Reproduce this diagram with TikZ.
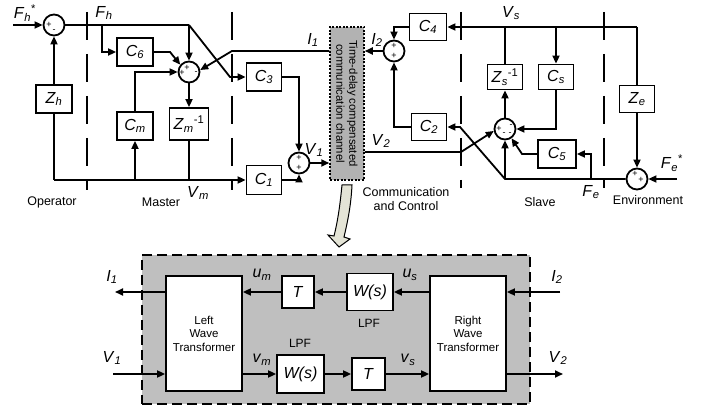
\documentclass[tikz,border=0pt]{standalone}
\usepackage{fontspec}
\setmainfont{Liberation Sans}
\usetikzlibrary{arrows.meta,calc}
\newcommand\vsub[2]{\textit{#1}\textsubscript{\textit{#2}}}
\begin{document}
\begin{tikzpicture}[x=1pt,y=-1pt,
  wire/.style={line width=1.8pt},
  arr/.style={line width=1.8pt,-{Triangle[length=8pt,width=7pt]}},
  blk/.style={draw,fill=white,line width=1.8pt,inner sep=0pt,font=\fontsize{16}{18}\selectfont},
  wbox/.style={draw,fill=white,line width=1.8pt,inner sep=0pt,align=center,font=\fontsize{11.5}{13.5}\selectfont,minimum width=76pt,minimum height=115pt},
  sum/.style={circle,draw,fill=white,line width=1.8pt,minimum size=21pt,inner sep=0pt},
  sg/.style={font=\fontsize{9}{9}\selectfont,inner sep=0pt},
  lab/.style={font=\fontsize{16}{18}\selectfont,inner sep=0pt},
  txt/.style={font=\fontsize{12.5}{14}\selectfont,inner sep=0pt,align=center},
  sep/.style={line width=1.8pt,dash pattern=on 28pt off 14pt},
]
\useasboundingbox (0,0) rectangle (709,411);
\fill[white] (0,0) rectangle (709,411);

% separators
\draw[sep] (87,12) -- (87,190);
\draw[sep] (232,12) -- (232,190);
\draw[sep] (461,12) -- (461,188);
\draw[sep] (604,12) -- (604,188);

% summing junctions
\node[sum] (s1) at (54,25) {};
\node[sum] (s2) at (189,72) {};
\node[sum] (s3) at (299,163) {};
\node[sum] (s4) at (394,51) {};
\node[sum] (s5) at (505,129) {};
\node[sum] (s6) at (637,179) {};

% blocks
\node[blk,minimum width=36pt,minimum height=28pt] (Zh) at (54,99) {\vsub{Z}{h}};
\node[blk,minimum width=36pt,minimum height=28pt] (C6) at (135,52) {\vsub{C}{6}};
\node[blk,minimum width=36pt,minimum height=28pt] (Cm) at (135,126) {\vsub{C}{m}};
\node[blk,minimum width=39pt,minimum height=32pt] (Zm) at (189,124) {\vsub{Z}{m}\textsuperscript{-1}};
\node[blk,minimum width=35pt,minimum height=28pt] (C3) at (264,77) {\vsub{C}{3}};
\node[blk,minimum width=35pt,minimum height=29pt] (C1) at (264,180) {\vsub{C}{1}};
\node[draw,fill=gray!60,line width=1.5pt,dash pattern=on 2pt off 1.5pt,minimum width=34pt,minimum height=153pt,inner sep=0pt] (ch) at (347,103.5) {};
\node[rotate=-90,align=center,font=\fontsize{11.3}{13}\selectfont,inner sep=0pt] (chT) at (ch.center) {Time-delay compensated\\communication channel};
\node[blk,minimum width=37pt,minimum height=27pt] (C4) at (428,27) {\vsub{C}{4}};
\node[blk,minimum width=35pt,minimum height=27pt] (C2) at (429,127) {\vsub{C}{2}};
\node[blk,minimum width=35pt,minimum height=25pt] (Zs) at (505,77) {\vsub{Z}{s}\textsuperscript{-1}};
\node[blk,minimum width=35pt,minimum height=25pt] (Cs) at (556,77) {\vsub{C}{s}};
\node[blk,minimum width=35pt,minimum height=27pt] (Ze) at (637,99) {\vsub{Z}{e}};
\node[blk,minimum width=38pt,minimum height=28pt] (C5) at (557,154) {\vsub{C}{5}};

% signs
\node[sg] (s1a) at ($(s1)+(-5,0)$) {+};
\node[sg] (s1b) at ($(s1)+(0,6)$) {-};
\node[sg] (s2a) at ($(s2)+(-7,1)$) {+};
\node[sg] (s2b) at ($(s2)+(-2,-4)$) {+};
\node[sg] (s2c) at ($(s2)+(7,1)$) {-};
\node[sg] (s3a) at ($(s3)+(0,-5)$) {+};
\node[sg] (s3b) at ($(s3)+(0,5)$) {+};
\node[sg] (s4a) at ($(s4)+(0,-5)$) {+};
\node[sg] (s4b) at ($(s4)+(0,5)$) {+};
\node[sg] (s5a) at ($(s5)+(-6,0)$) {+};
\node[sg] (s5b) at ($(s5)+(6,-3)$) {-};
\node[sg] (s5c) at ($(s5)+(-1,5)$) {-};
\node[sg] (s5d) at ($(s5)+(5,5)$) {-};
\node[sg] (s6a) at ($(s6)+(-2,-5)$) {+};
\node[sg] (s6b) at ($(s6)+(4,1)$) {+};

% left side wiring
\coordinate (fhin) at (13,25);
\coordinate (j0) at (102,25);
\coordinate (j1) at (189,25);
\coordinate (j2) at (230,77);
\coordinate (c6k) at (170,52);
\coordinate (i1) at (232,51);
\coordinate (vm0) at (54,180);
\draw[arr] (fhin) -- (s1.west);
\draw[wire] (s1.east) -- (j1);
\draw[arr] (j1) -- (s2.north);
\draw[arr] (j0) |- (C6.west);
\draw[arr] (j1) -- (j2) -- (C3.west);
\draw[arr] (C6.east) -- (c6k) -- (s2.140);
\draw[arr] (Cm.north) |- (s2.west);
\draw[arr] (ch.west |- i1) -- (i1) -- (s2.10);
\draw[arr] (s2.south) -- (Zm.north);
\draw[wire] (Zh.south) -- (vm0);
\draw[arr] (vm0) -- (C1.west);
\draw[arr] (Cm.south |- vm0) -- (Cm.south);
\draw[wire] (Zm.south) -- (Zm.south |- vm0);
\draw[arr] (Zh.north) -- (s1.south);
\draw[arr] (C3.east) -| (s3.north);
\draw[arr] (C1.east) -| (s3.south);
\draw[arr] (s3.east) -- (s3.east -| ch.west);

% right side wiring
\coordinate (v2k) at (461,152);
\coordinate (vs1) at (637,27);
\coordinate (fein) at (677,179);
\coordinate (fe1) at (505,179);
\coordinate (fe2) at (460,127);
\coordinate (fe3) at (591,179);
\coordinate (c5k) at (522,154);
\draw[arr] (ch.east |- v2k) -- (v2k) -- (s5.190);
\draw[arr] (s4.west) -- (s4.west -| ch.east);
\draw[arr] (vs1) -- (C4.east);
\draw[wire] (vs1) -- (Ze.north);
\draw[wire] (Zs.north) -- (Zs.north |- vs1);
\draw[arr] (Cs.north |- vs1) -- (Cs.north);
\draw[arr] (C4.west) -| (s4.north);
\draw[arr] (C2.west) -| (s4.south);
\draw[arr] (s5.north) -- (Zs.south);
\draw[arr] (Cs.south) |- (s5.east);
\draw[arr] (Ze.south) -- (s6.north);
\draw[arr] (fein) -- (s6.east);
\draw[arr] (s6.west) -- (fe1) -- (fe2) -- (C2.east);
\draw[arr] (fe1) -- (s5.south);
\draw[arr] (fe3) |- (C5.east);
\draw[arr] (C5.west) -- (c5k) -- (s5.-55);

% labels
\node[lab] (lFhs) at (25,13) {\vsub{F}{h}\textsuperscript{*}};
\node[lab] (lFh) at (104,13) {\vsub{F}{h}};
\node[lab] (lI1) at (313,40) {\vsub{I}{1}};
\node[lab] (lV1) at (314,150) {\vsub{V}{1}};
\node[lab] (lVm) at (198,193) {\vsub{V}{m}};
\node[lab] (lI2) at (377,40) {\vsub{I}{2}};
\node[lab] (lV2) at (381,141) {\vsub{V}{2}};
\node[lab] (lVs) at (511,13) {\vsub{V}{s}};
\node[lab] (lFe) at (591,192) {\vsub{F}{e}};
\node[lab] (lFes) at (672,163) {\vsub{F}{e}\textsuperscript{*}};
\node[txt] (tOp) at (52,202) {Operator};
\node[txt] (tMa) at (161,202) {Master};
\node[txt] (tCo) at (406,199) {Communication\\and Control};
\node[txt] (tSl) at (540,202) {Slave};
\node[txt] (tEn) at (648,200) {Environment};

% curved block arrow
\draw[line width=1pt,fill={rgb,255:red,228;green,228;blue,214}]
  (342,185) .. controls (340,205) and (338,220) .. (334,236) -- (328,235) -- (339,247) -- (350,239) -- (344,237) .. controls (348,220) and (351,205) .. (352,185) -- cycle;

% bottom detail
\node[draw,fill=gray!50,line width=1.8pt,dash pattern=on 10pt off 5pt,minimum width=388pt,minimum height=149pt,inner sep=0pt] (bb) at (336,329.5) {};
\node[wbox] (LW) at (204,333.5) {Left\\Wave\\Transformer};
\node[wbox] (RW) at (468,333.5) {Right\\Wave\\Transformer};
\node[blk,minimum width=32pt,minimum height=32pt] (T1) at (298,292) {\textit{T}};
\node[blk,minimum width=46pt,minimum height=37pt] (W1) at (370,292) {\textit{W(s)}};
\node[blk,minimum width=47pt,minimum height=38pt] (W2) at (300.5,374) {\textit{W(s)}};
\node[blk,minimum width=33pt,minimum height=32pt] (T2) at (368.5,374) {\textit{T}};
\coordinate (i1o) at (115,292);
\coordinate (i2i) at (560,292);
\coordinate (v1i) at (113,374);
\coordinate (v2o) at (563,374);
\draw[arr] (LW.west |- i1o) -- (i1o);
\draw[arr] (RW.west |- W1) -- (W1.east);
\draw[arr] (W1.west) -- (T1.east);
\draw[arr] (T1.west) -- (T1.west -| LW.east);
\draw[arr] (i2i) -- (i2i -| RW.east);
\draw[arr] (v1i) -- (v1i -| LW.west);
\draw[arr] (LW.east |- W2) -- (W2.west);
\draw[arr] (W2.east) -- (T2.west);
\draw[arr] (T2.east) -- (T2.east -| RW.west);
\draw[arr] (RW.east |- v2o) -- (v2o);
\node[lab] (bI1) at (112,277) {\vsub{I}{1}};
\node[lab] (bum) at (262,275) {\vsub{u}{m}};
\node[lab] (bus) at (410,275) {\vsub{u}{s}};
\node[txt,font=\fontsize{12}{14}\selectfont] (bL1) at (369,323) {LPF};
\node[lab] (bI2) at (557,277) {\vsub{I}{2}};
\node[lab] (bV1) at (112,358) {\vsub{V}{1}};
\node[lab] (bvm) at (262,360) {\vsub{v}{m}};
\node[txt,font=\fontsize{12}{14}\selectfont] (bL2) at (300,343) {LPF};
\node[lab] (bvs) at (408,360) {\vsub{v}{s}};
\node[lab] (bV2) at (558,358) {\vsub{V}{2}};
\end{tikzpicture}
\end{document}
